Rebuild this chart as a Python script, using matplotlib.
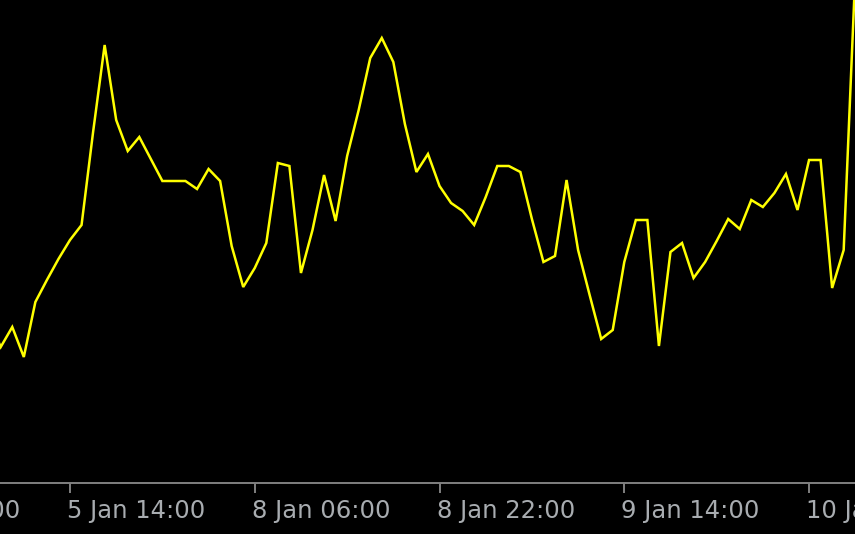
import matplotlib
matplotlib.use("Agg")
import matplotlib.pyplot as plt
import matplotlib.transforms as mtransforms
import numpy as np

# Hourly bars (index -1 .. 74); values are chart heights
values = [163,
          136, 156, 126, 181, 203, 224, 243, 258, 351, 438,
          363, 332, 346, 324, 302, 302, 302, 294, 314, 302,
          237, 196, 215, 240, 320, 317, 210, 253, 308, 262,
          327, 373, 425, 445, 421, 359, 311, 329, 297, 280,
          272, 258, 286, 317, 317, 311, 264, 221, 227, 303,
          233, 188, 144, 153, 221, 263, 263, 137, 231, 240,
          205, 221, 242, 264, 254, 283, 276, 290, 309, 273,
          323, 323, 195, 233, 508]
bar_index = list(range(-1, len(values) - 1))

tick_index = [-10, 6, 22, 38, 54, 70]
tick_labels = ["4 Jan 22:00", "5 Jan 14:00", "8 Jan 06:00",
               "8 Jan 22:00", "9 Jan 14:00", "10 Jan 06:00"]

W, H = 855, 534
fig = plt.figure(figsize=(W / 100, H / 100), dpi=100, facecolor="black")
ax = fig.add_axes([0, 51 / H, 1, 483 / H], facecolor="black")

ax.plot(bar_index, values, color="#ffff00", lw=1.8, solid_joinstyle="miter")

ax.set_xlim(-0.062, 73.98)
ax.set_ylim(0, 483)

for s in ["top", "left", "right"]:
    ax.spines[s].set_visible(False)
ax.spines["bottom"].set_color("#808080")
ax.spines["bottom"].set_linewidth(1.4)

visible_ticks = [t for t in tick_index if t >= 0]
ax.set_xticks(visible_ticks)
ax.set_yticks([])
ax.tick_params(axis="x", direction="out", length=7, width=1.4,
               color="#808080", labelbottom=False)

trans = mtransforms.blended_transform_factory(ax.transData, ax.transAxes) + \
    mtransforms.ScaledTranslation(-3 / 100, -16 / 100, fig.dpi_scale_trans)
for t, lab in zip(tick_index, tick_labels):
    ax.text(t, 0, lab, transform=trans, ha="left", va="top",
            color="#a8acb0", fontsize=17.5, family="DejaVu Sans",
            clip_on=False)

fig.savefig("out.png", dpi=100, facecolor="black")
